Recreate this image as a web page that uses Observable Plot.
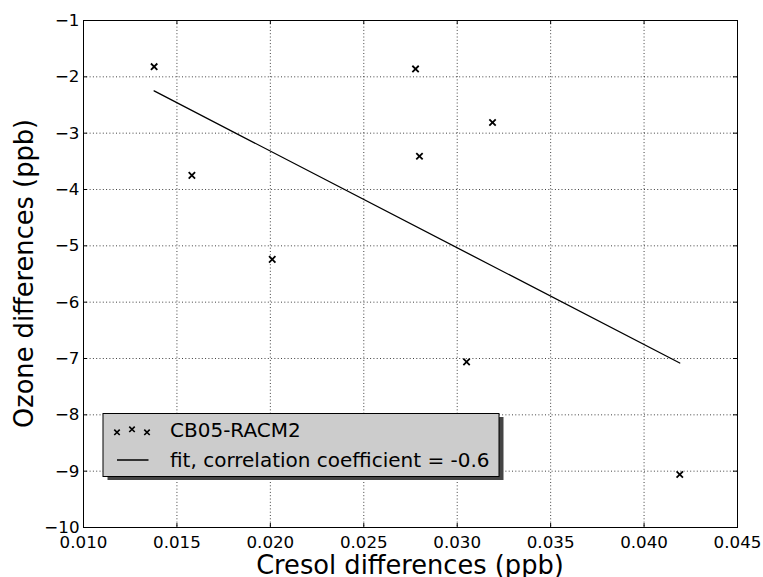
<!DOCTYPE html>
<html><head><meta charset="utf-8">
<script src="https://cdn.jsdelivr.net/npm/d3@7"></script>
<script src="https://cdn.jsdelivr.net/npm/@observablehq/plot@0.6"></script>
<style>html,body{margin:0;padding:0;background:#fff} svg{display:block}</style>
</head><body><div id="chart"></div>
<script>
// Data
const cresol = [0.01378, 0.0158, 0.0201, 0.02777, 0.02798, 0.03189, 0.0305, 0.04191];
const ozone  = [-1.82, -3.75, -5.24, -1.86, -3.41, -2.81, -7.06, -9.06];
const fitX = [0.01378, 0.04191];
const fitY = [-2.25, -7.08];
const xTicks = [0.010, 0.015, 0.020, 0.025, 0.030, 0.035, 0.040, 0.045];
const xTickLabels = ["0.010", "0.015", "0.020", "0.025", "0.030", "0.035", "0.040", "0.045"];
const yTicks = [-10, -9, -8, -7, -6, -5, -4, -3, -2, -1];
const yTickLabels = ["\u221210", "\u22129", "\u22128", "\u22127", "\u22126", "\u22125", "\u22124", "\u22123", "\u22122", "\u22121"];
const seriesName = "CB05-RACM2";
const fitName = "fit, correlation coefficient = -0.6";
const xLabel = "Cresol differences (ppb)";
const yLabel = "Ozone differences (ppb)";

const W = 763, H = 577, mL = 83, mR = 26, mT = 20, mB = 50;
const innerW = W - mL - mR, innerH = H - mT - mB;
const pts = cresol.map((x, i) => ({x, y: ozone[i]}));
const fit = fitX.map((x, i) => ({x, y: fitY[i]}));
const fmtX = d => xTickLabels[xTicks.findIndex(t => Math.abs(t - d) < 1e-9)];
const fmtY = d => yTickLabels[yTicks.findIndex(t => Math.abs(t - d) < 1e-9)];
const grid = {stroke: "#000", strokeOpacity: 0.75, strokeWidth: 1, strokeDasharray: "1,2.3"};

const plot = Plot.plot({
  width: W, height: H,
  marginLeft: mL, marginRight: mR, marginTop: mT, marginBottom: mB,
  style: {fontFamily: "DejaVu Sans", fontSize: "16.7px", color: "#000", background: "#fff"},
  x: {domain: [0.010, 0.045]},
  y: {domain: [-10, -1]},
  marks: [
    Plot.ruleX(xTicks, {x: d => d, ...grid}),
    Plot.ruleY(yTicks, {y: d => d, ...grid}),
    Plot.ruleX(xTicks, {x: d => d, stroke: "#000", insetTop: innerH - 4}),
    Plot.ruleX(xTicks, {x: d => d, stroke: "#000", insetBottom: innerH - 4}),
    Plot.ruleY(yTicks, {y: d => d, stroke: "#000", insetRight: innerW - 4}),
    Plot.ruleY(yTicks, {y: d => d, stroke: "#000", insetLeft: innerW - 4}),
    Plot.axisX({ticks: xTicks, tickFormat: fmtX, tickSize: 0, tickPadding: 9, label: null, fontSize: 16.7}),
    Plot.axisY({ticks: yTicks, tickFormat: fmtY, tickSize: 0, tickPadding: 4, label: null, fontSize: 16.7}),
    Plot.line(fit, {x: "x", y: "y", stroke: "#000", strokeWidth: 1.3}),
    Plot.dot(pts, {x: "x", y: "y", symbol: "times", r: 3, stroke: "#000", strokeWidth: 1.8}),
    Plot.frame({stroke: "#000", strokeWidth: 1})
  ]
});
document.getElementById("chart").appendChild(plot);

const svg = d3.select(plot);
svg.append("text")
  .attr("x", mL + innerW / 2).attr("y", 574)
  .attr("text-anchor", "middle").attr("font-size", 25.7).attr("fill", "#000")
  .text(xLabel);
svg.append("text")
  .attr("transform", `translate(33,${mT + innerH / 2}) rotate(-90)`)
  .attr("text-anchor", "middle").attr("font-size", 25.7).attr("fill", "#000")
  .text(yLabel);

// Legend
const lg = svg.append("g").attr("transform", "translate(103,413.5)").attr("text-anchor", "start");
lg.append("rect").attr("x", 4.5).attr("y", 3.5).attr("width", 396).attr("height", 63).attr("fill", "#444");
lg.append("rect").attr("width", 396).attr("height", 63).attr("fill", "#ccc").attr("stroke", "#000");
const sym = d3.symbol(d3.symbolTimes, Math.PI * 2.6 * 2.6);
[[14, 18.8], [29, 15.8], [44, 18.8]].forEach(([x, y]) =>
  lg.append("path").attr("d", sym()).attr("transform", `translate(${x},${y})`)
    .attr("stroke", "#000").attr("stroke-width", 1.6).attr("fill", "none"));
lg.append("line").attr("x1", 14).attr("x2", 45.5).attr("y1", 46.5).attr("y2", 46.5)
  .attr("stroke", "#000").attr("stroke-width", 1.5);
lg.append("text").attr("x", 67).attr("y", 23.5).attr("font-size", 20).attr("fill", "#000")
  .attr("text-anchor", "start").text(seriesName);
lg.append("text").attr("x", 67).attr("y", 53).attr("font-size", 20).attr("fill", "#000")
  .attr("text-anchor", "start").text(fitName);
</script>
</body></html>
